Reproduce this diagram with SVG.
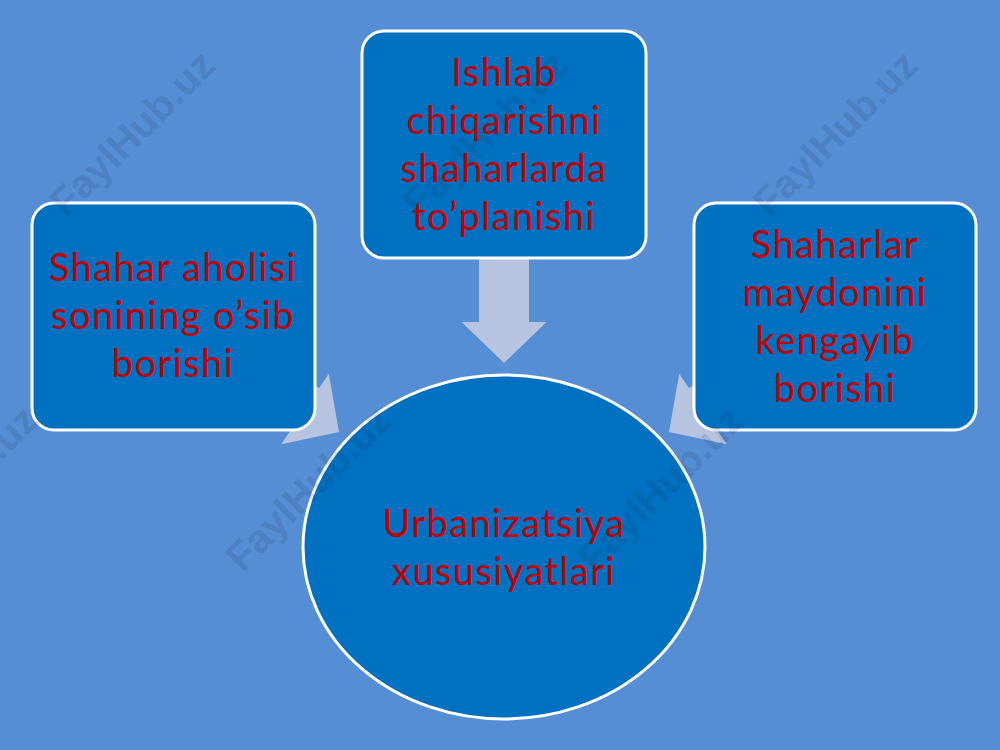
<svg xmlns="http://www.w3.org/2000/svg" width="1000" height="750" viewBox="0 0 1000 750">
  <defs>
    <style>
      .box { fill: #0070C0; stroke: #FFFFFF; stroke-width: 3; }
      .arrow { fill: #B6C4DF; }
      .lbl { font-family: Lato, "Liberation Sans", sans-serif; font-size: 38px; letter-spacing: 1.4px; fill: #C00000; text-anchor: middle; }
      .wm { font-family: "Liberation Sans", Arial, sans-serif; font-weight: bold; font-size: 40px; fill: #1F3050; opacity: 0.13; text-anchor: middle; }
    </style>
    <path id="arr" d="M-25,-105 H25 V-41 H42.5 L0,0 L-42.5,-41 H-25 Z"/>
  </defs>
  <rect x="0" y="0" width="1000" height="750" fill="#558ED5"/>

  <g id="connectors">
    <use href="#arr" class="arrow" transform="translate(504,363)"/>
    <use href="#arr" class="arrow" transform="translate(339,432) rotate(-56)"/>
    <use href="#arr" class="arrow" transform="translate(669,432) rotate(56)"/>
  </g>

  <g id="node-left">
    <rect class="box" x="32" y="203" width="283" height="227" rx="22"/>
    <text class="lbl" x="173" y="281">Shahar aholisi</text>
    <text class="lbl" x="173" y="329">sonining o’sib</text>
    <text class="lbl" x="173" y="377">borishi</text>
  </g>

  <g id="node-top">
    <rect class="box" x="362" y="31" width="284" height="227" rx="22"/>
    <text class="lbl" x="504" y="86">Ishlab</text>
    <text class="lbl" x="504" y="134">chiqarishni</text>
    <text class="lbl" x="504" y="182">shaharlarda</text>
    <text class="lbl" x="504" y="230">to’planishi</text>
  </g>

  <g id="node-right">
    <rect class="box" x="694" y="203" width="282" height="227" rx="22"/>
    <text class="lbl" x="835" y="258">Shaharlar</text>
    <text class="lbl" x="835" y="306">maydonini</text>
    <text class="lbl" x="835" y="354">kengayib</text>
    <text class="lbl" x="835" y="402">borishi</text>
  </g>

  <g id="node-center">
    <ellipse class="box" cx="504" cy="547" rx="201" ry="172"/>
    <text class="lbl" x="504" y="537">Urbanizatsiya</text>
    <text class="lbl" x="504" y="585">xususiyatlari</text>
  </g>

  <g id="watermarks">
    <text class="wm" transform="translate(142,143) rotate(-45)">FaylHub.uz</text>
    <text class="wm" transform="translate(495,143) rotate(-45)">FaylHub.uz</text>
    <text class="wm" transform="translate(845,143) rotate(-45)">FaylHub.uz</text>
    <text class="wm" transform="translate(-35,498) rotate(-45)">FaylHub.uz</text>
    <text class="wm" transform="translate(318,498) rotate(-45)">FaylHub.uz</text>
    <text class="wm" transform="translate(670,498) rotate(-45)">FaylHub.uz</text>
  </g>
</svg>
